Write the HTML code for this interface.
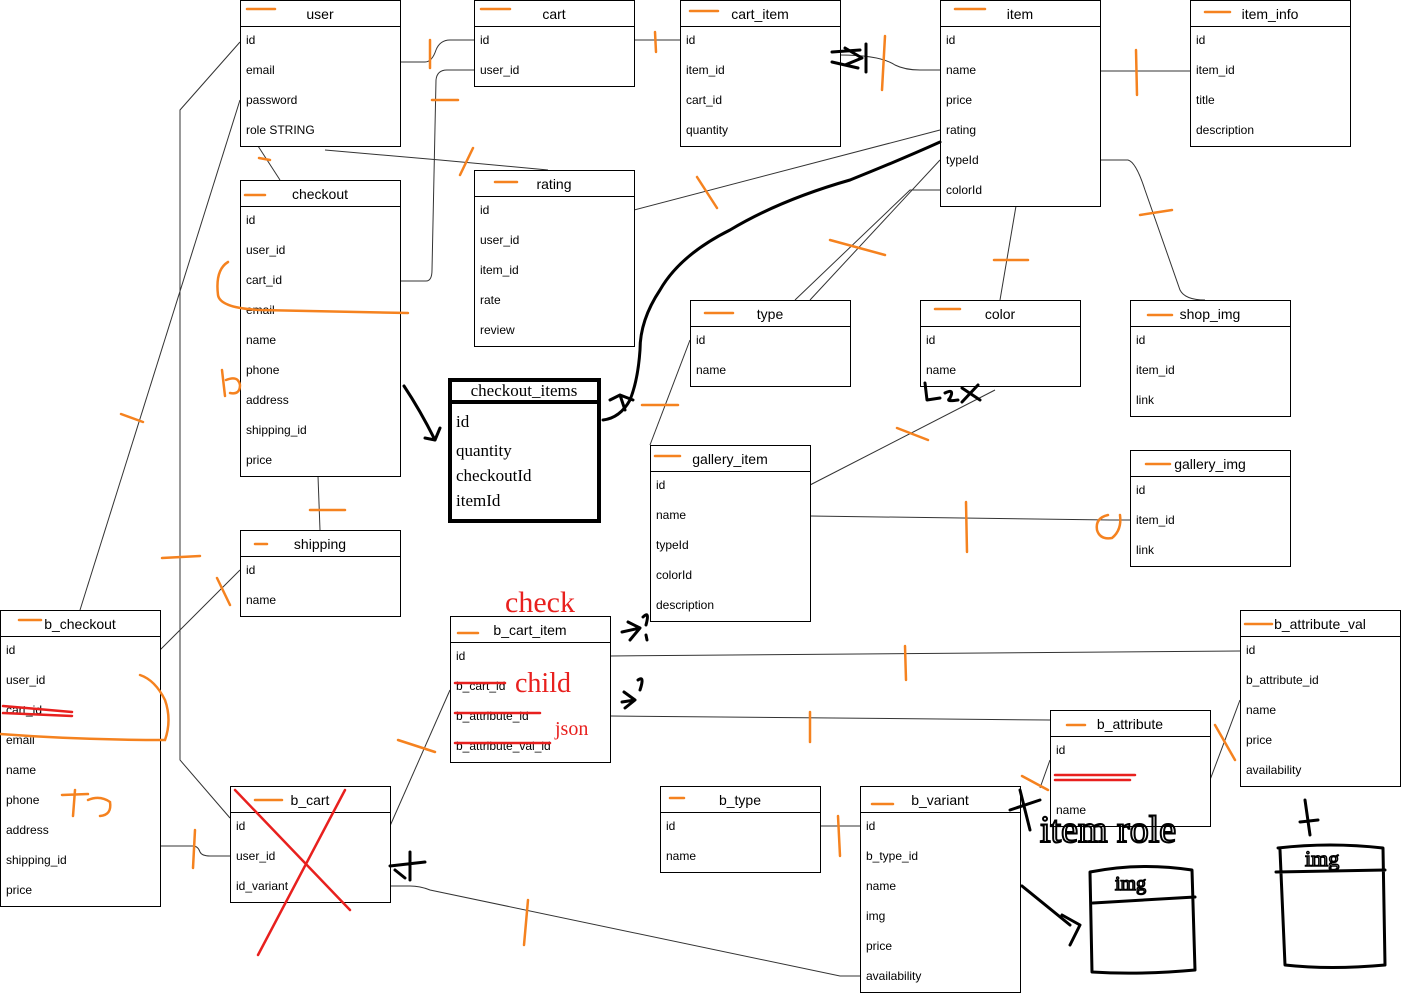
<!DOCTYPE html>
<html><head><meta charset="utf-8"><style>
html,body{margin:0;padding:0;background:#fff;}
svg{display:block;font-family:"Liberation Sans",Arial,sans-serif;}
.t rect{fill:#fff;stroke:#000;stroke-width:1}
.h{font-size:14px;text-anchor:middle}
.f{font-size:12px}
.c{fill:none;stroke:#333;stroke-width:1}
.o{fill:none;stroke:#f5821f;stroke-width:2.5;stroke-linecap:round}
.k{fill:none;stroke:#000;stroke-width:3;stroke-linecap:round;stroke-linejoin:round}
.r{fill:none;stroke:#e8201e;stroke-width:2.5;stroke-linecap:round}
</style></head><body>
<svg width="1401" height="996" viewBox="0 0 1401 996">
<!-- connectors -->
<g class="c">
<polyline points="240,42 180,110 180,760 230,818"/>
<path d="M400,62 H425 Q432,62 436,50 Q440,40 450,40 H474"/>
<path d="M400,281 H426 Q432,281 432,270 L436,80 Q437,70 447,70 H474"/>
<line x1="258" y1="146" x2="280" y2="180"/>
<polyline points="325,150 440,160 548,170"/>
<line x1="634" y1="40" x2="680" y2="40"/>
<path d="M840,55 Q880,55 895,65 Q905,70 920,70 H940"/>
<line x1="1100" y1="71" x2="1190" y2="71"/>
<line x1="940" y1="130" x2="634" y2="210"/>
<polyline points="795,300 910,190 940,190"/>
<line x1="810" y1="300" x2="940" y2="160"/>
<line x1="1016" y1="206" x2="1000" y2="300"/>
<path d="M1100,160 H1128 Q1136,162 1145,190 L1180,290 Q1185,300 1205,300"/>
<line x1="690" y1="340" x2="650" y2="445"/>
<line x1="810" y1="485" x2="995" y2="390"/>
<polyline points="810,516 1110,520 1130,520"/>
<line x1="318" y1="476" x2="320" y2="530"/>
<line x1="240" y1="570" x2="160" y2="650"/>
<line x1="240" y1="100" x2="80" y2="610"/>
<path d="M160,846 H193 Q198,846 200,852 Q202,856 210,856 H230"/>
<line x1="390" y1="826" x2="450" y2="690"/>
<line x1="610" y1="656" x2="1240" y2="651"/>
<line x1="610" y1="716" x2="1050" y2="720"/>
<line x1="1210" y1="780" x2="1240" y2="700"/>
<line x1="820" y1="826" x2="860" y2="826"/>
<path d="M390,886 H410 Q420,886 430,890 L840,976 H860"/>
<line x1="1050" y1="760" x2="1040" y2="788"/>
</g>
<!-- tables -->
<g class="t">
<rect x="240.5" y="0.5" width="160" height="146"/><rect x="474.5" y="0.5" width="160" height="86"/>
<rect x="680.5" y="0.5" width="160" height="146"/><rect x="940.5" y="0.5" width="160" height="206"/>
<rect x="1190.5" y="0.5" width="160" height="146"/><rect x="240.5" y="180.5" width="160" height="296"/>
<rect x="474.5" y="170.5" width="160" height="176"/><rect x="690.5" y="300.5" width="160" height="86"/>
<rect x="920.5" y="300.5" width="160" height="86"/><rect x="1130.5" y="300.5" width="160" height="116"/>
<rect x="650.5" y="445.5" width="160" height="176"/><rect x="1130.5" y="450.5" width="160" height="116"/>
<rect x="240.5" y="530.5" width="160" height="86"/><rect x="0.5" y="610.5" width="160" height="296"/>
<rect x="450.5" y="616.5" width="160" height="146"/><rect x="1240.5" y="610.5" width="160" height="176"/>
<rect x="1050.5" y="710.5" width="160" height="116"/><rect x="660.5" y="786.5" width="160" height="86"/>
<rect x="860.5" y="786.5" width="160" height="206"/><rect x="230.5" y="786.5" width="160" height="116"/>
</g>
<g stroke="#000" stroke-width="1">
<line x1="240" y1="26.5" x2="400" y2="26.5"/><line x1="474" y1="26.5" x2="634" y2="26.5"/>
<line x1="680" y1="26.5" x2="840" y2="26.5"/><line x1="940" y1="26.5" x2="1100" y2="26.5"/>
<line x1="1190" y1="26.5" x2="1350" y2="26.5"/><line x1="240" y1="206.5" x2="400" y2="206.5"/>
<line x1="474" y1="196.5" x2="634" y2="196.5"/><line x1="690" y1="326.5" x2="850" y2="326.5"/>
<line x1="920" y1="326.5" x2="1080" y2="326.5"/><line x1="1130" y1="326.5" x2="1290" y2="326.5"/>
<line x1="650" y1="471.5" x2="810" y2="471.5"/><line x1="1130" y1="476.5" x2="1290" y2="476.5"/>
<line x1="240" y1="556.5" x2="400" y2="556.5"/><line x1="0" y1="636.5" x2="160" y2="636.5"/>
<line x1="450" y1="642.5" x2="610" y2="642.5"/><line x1="1240" y1="636.5" x2="1400" y2="636.5"/>
<line x1="1050" y1="736.5" x2="1210" y2="736.5"/><line x1="660" y1="812.5" x2="820" y2="812.5"/>
<line x1="860" y1="812.5" x2="1020" y2="812.5"/><line x1="230" y1="812.5" x2="390" y2="812.5"/>
</g>
<g class="h">
<text x="320" y="19">user</text><text x="554" y="19">cart</text><text x="760" y="19">cart_item</text>
<text x="1020" y="19">item</text><text x="1270" y="19">item_info</text><text x="320" y="199">checkout</text>
<text x="554" y="189">rating</text><text x="770" y="319">type</text><text x="1000" y="319">color</text>
<text x="1210" y="319">shop_img</text><text x="730" y="464">gallery_item</text><text x="1210" y="469">gallery_img</text>
<text x="320" y="549">shipping</text><text x="80" y="629">b_checkout</text><text x="530" y="635">b_cart_item</text>
<text x="1320" y="629">b_attribute_val</text><text x="1130" y="729">b_attribute</text><text x="740" y="805">b_type</text>
<text x="940" y="805">b_variant</text><text x="310" y="805">b_cart</text>
</g>
<g class="f">
<text x="246" y="44">id</text><text x="246" y="74">email</text><text x="246" y="104">password</text><text x="246" y="134">role STRING</text>
<text x="480" y="44">id</text><text x="480" y="74">user_id</text>
<text x="686" y="44">id</text><text x="686" y="74">item_id</text><text x="686" y="104">cart_id</text><text x="686" y="134">quantity</text>
<text x="946" y="44">id</text><text x="946" y="74">name</text><text x="946" y="104">price</text><text x="946" y="134">rating</text><text x="946" y="164">typeId</text><text x="946" y="194">colorId</text>
<text x="1196" y="44">id</text><text x="1196" y="74">item_id</text><text x="1196" y="104">title</text><text x="1196" y="134">description</text>
<text x="246" y="224">id</text><text x="246" y="254">user_id</text><text x="246" y="284">cart_id</text><text x="246" y="314">email</text><text x="246" y="344">name</text><text x="246" y="374">phone</text><text x="246" y="404">address</text><text x="246" y="434">shipping_id</text><text x="246" y="464">price</text>
<text x="480" y="214">id</text><text x="480" y="244">user_id</text><text x="480" y="274">item_id</text><text x="480" y="304">rate</text><text x="480" y="334">review</text>
<text x="696" y="344">id</text><text x="696" y="374">name</text>
<text x="926" y="344">id</text><text x="926" y="374">name</text>
<text x="1136" y="344">id</text><text x="1136" y="374">item_id</text><text x="1136" y="404">link</text>
<text x="656" y="489">id</text><text x="656" y="519">name</text><text x="656" y="549">typeId</text><text x="656" y="579">colorId</text><text x="656" y="609">description</text>
<text x="1136" y="494">id</text><text x="1136" y="524">item_id</text><text x="1136" y="554">link</text>
<text x="246" y="574">id</text><text x="246" y="604">name</text>
<text x="6" y="654">id</text><text x="6" y="684">user_id</text><text x="6" y="714">cart_id</text><text x="6" y="744">email</text><text x="6" y="774">name</text><text x="6" y="804">phone</text><text x="6" y="834">address</text><text x="6" y="864">shipping_id</text><text x="6" y="894">price</text>
<text x="456" y="660">id</text><text x="456" y="690">b_cart_id</text><text x="456" y="720">b_attribute_id</text><text x="456" y="750">b_attribute_val_id</text>
<text x="1246" y="654">id</text><text x="1246" y="684">b_attribute_id</text><text x="1246" y="714">name</text><text x="1246" y="744">price</text><text x="1246" y="774">availability</text>
<text x="1056" y="754">id</text><text x="1056" y="814">name</text>
<text x="666" y="830">id</text><text x="666" y="860">name</text>
<text x="866" y="830">id</text><text x="866" y="860">b_type_id</text><text x="866" y="890">name</text><text x="866" y="920">img</text><text x="866" y="950">price</text><text x="866" y="980">availability</text>
<text x="236" y="830">id</text><text x="236" y="860">user_id</text><text x="236" y="890">id_variant</text>
</g>
<!-- checkout_items -->
<rect x="450" y="380" width="149" height="141" fill="#fff" stroke="#000" stroke-width="4"/>
<line x1="450" y1="402" x2="599" y2="402" stroke="#000" stroke-width="4"/>
<g font-family="Liberation Serif,serif" font-size="17">
<text x="524" y="396" text-anchor="middle">checkout_items</text>
<text x="456" y="427">id</text><text x="456" y="456">quantity</text><text x="456" y="481">checkoutId</text><text x="456" y="506">itemId</text>
</g>
<!-- black scribbles -->
<g class="k">
<path d="M940,142 Q900,160 850,180 Q780,200 730,230 Q680,255 660,290 Q640,320 640,350 Q638,380 630,400 Q620,418 603,420"/>
<path d="M610,400 L620,395 L633,400 M620,395 L625,410"/>
<path d="M404,386 Q420,410 435,440 M425,438 L435,440 L440,428"/>
<path d="M832,52 L860,50 M832,62 L858,68 M845,48 L862,58 L845,65 M866,44 L866,72"/>
<path d="M925,383 L927,400 L940,398 M945,393 Q955,388 950,398 Q945,402 958,400 M962,388 L980,400 M978,385 L962,402"/>
<path d="M390,866 L425,862 M410,852 L410,880 M395,870 L405,878"/>
<path d="M1020,790 L1030,830 M1010,810 L1040,800"/>
<path d="M1022,886 L1070,925 M1062,915 L1080,925 L1070,945"/>
<path d="M1090,872 Q1140,862 1192,870 L1195,970 Q1140,975 1092,972 Z M1093,903 L1195,897"/>
<path d="M1278,848 Q1330,842 1383,848 L1385,965 Q1330,970 1285,965 L1280,850 M1276,872 L1385,870 M1305,800 L1310,835 M1300,822 L1318,820"/>
<path d="M622,632 L640,628 M628,622 L640,628 L630,640 M622,702 L635,700 M624,692 L635,700 L625,708"/>
<path d="M643,617 Q650,610 646,625 M646,635 L647,640"/>
<path d="M638,680 Q645,675 640,690"/>
</g>
<text x="1040" y="842" font-size="38" font-family="Liberation Serif,serif" fill="none" stroke="#000" stroke-width="2">item role</text>
<text x="1115" y="890" font-size="20" font-family="Liberation Serif,serif" fill="none" stroke="#000" stroke-width="1.5">img</text>
<text x="1305" y="866" font-size="22" font-family="Liberation Serif,serif" fill="none" stroke="#000" stroke-width="1.5">img</text>
<!-- red -->
<g class="r">
<path d="M235,790 L350,910 M345,790 L258,955"/>
<path d="M3,706 L72,712 M3,713 L72,716"/>
<path d="M455,683 L505,683 M455,713 L540,713 M455,743 L550,743 M1055,775 L1135,775 M1055,780 L1130,780"/>
</g>
<text x="505" y="612" font-size="30" font-family="Liberation Serif,serif" fill="#e8201e">check</text>
<text x="515" y="692" font-size="28" font-family="Liberation Serif,serif" fill="#e8201e">child</text>
<text x="555" y="735" font-size="20" font-family="Liberation Serif,serif" fill="#e8201e">json</text>
<!-- orange -->
<g class="o">
<path d="M247,9 H275 M481,9 H510 M690,11 H718 M955,9 H985 M1205,12 H1230 M245,195 H265 M495,182 H517 M705,313 H733 M935,309 H960 M1148,315 H1172 M655,456 H680 M1146,464 H1170 M255,544 H267 M19,620 H41 M458,633 H478 M1245,624 H1272 M1067,725 H1085 M670,798 H684 M872,804 H893 M255,800 H282"/>
<path d="M430,40 L430,68 M432,100 L458,100 M655,32 L656,52 M885,36 L882,90 M1136,50 L1137,95 M259,158 L270,160 M460,175 L473,148 M697,177 L717,208 M830,240 L885,255 M994,260 L1028,260 M1140,215 L1172,210 M642,405 L678,405 M897,428 L928,440 M966,502 L967,552 M121,414 L143,422 M162,558 L200,556 M217,578 L230,605 M310,510 L345,510 M905,646 L906,680 M810,712 L810,742 M398,740 L435,752 M195,830 L193,868 M528,900 L524,945 M838,816 L840,856 M1215,725 L1235,760 M1022,776 L1048,790"/>
<path d="M228,262 Q215,270 218,295 Q220,308 260,310 L408,313"/>
<path d="M0,734 Q80,740 165,740 Q172,720 165,700 Q155,680 140,675"/>
<path d="M222,370 L225,396 M226,380 Q238,375 240,385 Q240,395 230,393"/>
<path d="M62,795 L88,794 M75,790 L73,816 M88,800 Q100,795 110,802 Q112,815 100,816"/>
<path d="M1108,515 Q1095,518 1097,530 Q1100,540 1112,538 Q1122,530 1120,515"/>
</g>
</svg>
</body></html>
